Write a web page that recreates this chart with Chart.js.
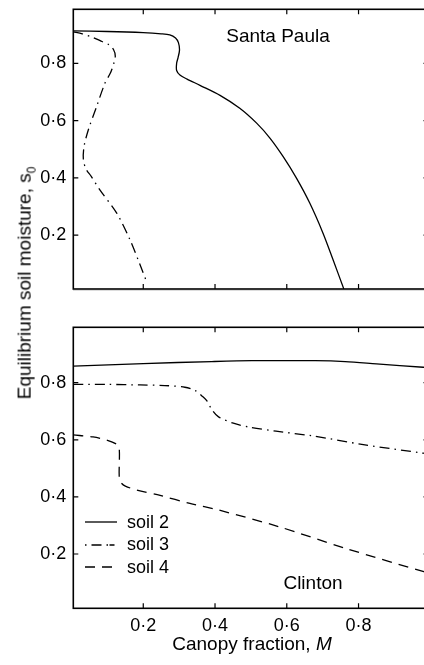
<!DOCTYPE html>
<html>
<head>
<meta charset="utf-8">
<script src="https://cdn.jsdelivr.net/npm/chart.js"></script>
<style>
  body { margin: 0; width: 424px; height: 665px; overflow: hidden; background: #fff; position: relative;
         font-family: "Liberation Sans", Arial, sans-serif; color: #000; }
  canvas { position: absolute; left: 0; }
  #topChart { top: -20px; }
  #botChart { top: 300px; }
  .lbl { position: absolute; white-space: nowrap; font-size: 19px; line-height: 1; }
  #sep { position: absolute; left: 73px; top: 290px; width: 360px; height: 1px; background: #dcdcdc; }
  #legend { position: absolute; left: 84px; top: 511px; font-size: 18px; }
  #legend div { height: 22.5px; display: flex; align-items: center; }
  #legend svg { margin-right: 9px; }
</style>
</head>
<body>
<div id="sep"></div>
<canvas id="botChart" width="440" height="365"></canvas>
<canvas id="topChart" width="440" height="330"></canvas>

<div class="lbl" id="ytitle" style="left:26px; top:283px; transform: translate(-50%,-50%) rotate(-90deg);">Equilibrium soil moisture, s<sub style="font-size:12px">0</sub></div>
<div class="lbl" style="left:252px; top:643px; transform: translate(-50%,-50%);">Canopy fraction, <i>M</i></div>
<div class="lbl" style="left:278px; top:35px; transform: translate(-50%,-50%);">Santa Paula</div>
<div class="lbl" style="left:313px; top:582px; transform: translate(-50%,-50%);">Clinton</div>
<div id="legend"></div>

<script>
// tick values
const xTicks = [0.2, 0.4, 0.6, 0.8];
const yTicks = [0.2, 0.4, 0.6, 0.8];

// Santa Paula
const spSoil2M = [0.005, 0.1, 0.2, 0.25, 0.274, 0.29, 0.298, 0.301, 0.297, 0.293, 0.293, 0.303, 0.322, 0.358, 0.414, 0.469, 0.516, 0.553, 0.59, 0.627, 0.664, 0.701, 0.729, 0.759];
const spSoil2S = [0.913, 0.911, 0.907, 0.903, 0.899, 0.888, 0.872, 0.846, 0.82, 0.8, 0.775, 0.758, 0.745, 0.723, 0.688, 0.643, 0.591, 0.539, 0.474, 0.399, 0.312, 0.207, 0.114, 0.012];
const spSoil3M = [0.005, 0.03, 0.06, 0.085, 0.104, 0.117, 0.122, 0.118, 0.108, 0.093, 0.07, 0.047, 0.035, 0.033, 0.04, 0.055, 0.079, 0.126, 0.163, 0.19, 0.21];
const spSoil3S = [0.91, 0.903, 0.89, 0.876, 0.865, 0.848, 0.825, 0.8, 0.765, 0.73, 0.649, 0.568, 0.51, 0.465, 0.432, 0.405, 0.358, 0.277, 0.184, 0.1, 0.035];

// Clinton
const clSoil2M = [0.005, 0.2, 0.391, 0.503, 0.679, 0.763, 0.85, 0.98, 0.995];
const clSoil2S = [0.858, 0.867, 0.874, 0.877, 0.877, 0.874, 0.866, 0.854, 0.853];
const clSoil3M = [0.005, 0.1, 0.191, 0.26, 0.316, 0.345, 0.365, 0.377, 0.391, 0.409, 0.451, 0.497, 0.57, 0.67, 0.809, 0.98, 0.995];
const clSoil3S = [0.794, 0.794, 0.792, 0.79, 0.784, 0.772, 0.752, 0.737, 0.706, 0.681, 0.658, 0.644, 0.63, 0.614, 0.584, 0.553, 0.55];
const clSoil4M = [0.005, 0.06, 0.098, 0.125, 0.133, 0.133, 0.138, 0.15, 0.182, 0.247, 0.33, 0.41, 0.577, 0.763, 0.982, 0.995];
const clSoil4S = [0.617, 0.61, 0.599, 0.585, 0.57, 0.47, 0.45, 0.438, 0.424, 0.405, 0.377, 0.354, 0.296, 0.22, 0.138, 0.134];

const seriesNames = ['soil 2', 'soil 3', 'soil 4'];
const dashes = [[], [10, 5, 1.5, 5], [10, 7]];

const pts = (xs, ys) => xs.map((x, i) => ({ x: x, y: ys[i] }));
const fmt = v => v.toFixed(1).replace('.', '\u00b7');
const font = { family: '"Liberation Sans", Arial, sans-serif', size: 18 };

function ds(label, xs, ys, k) {
  return { label: label, data: pts(xs, ys), showLine: true, borderColor: '#000', borderWidth: 1.3,
           borderDash: dashes[k], pointRadius: 0, fill: false, tension: 0.3 };
}

// frame + inward ticks
const framePlugin = {
  id: 'frame',
  afterDraw(chart) {
    const ctx = chart.ctx, a = chart.chartArea;
    ctx.save();
    ctx.strokeStyle = '#000';
    ctx.lineWidth = 1.2;
    ctx.beginPath();
    chart.scales.x.ticks.forEach(t => {
      const p = chart.scales.x.getPixelForValue(t.value);
      ctx.moveTo(p, a.bottom); ctx.lineTo(p, a.bottom - 5);
      ctx.moveTo(p, a.top); ctx.lineTo(p, a.top + 5);
    });
    chart.scales.y.ticks.forEach(t => {
      const p = chart.scales.y.getPixelForValue(t.value);
      ctx.moveTo(a.left, p); ctx.lineTo(a.left + 5, p);
      ctx.moveTo(a.right, p); ctx.lineTo(a.right - 5, p);
    });
    ctx.stroke();
    ctx.lineWidth = 1.6;
    ctx.strokeRect(a.left, a.top, a.right - a.left, a.bottom - a.top);
    ctx.restore();
  }
};

function makeChart(id, datasets, yMin, yMax, padTop, xHeight, showXLabels) {
  return new Chart(document.getElementById(id), {
    type: 'scatter',
    data: { datasets: datasets },
    options: {
      responsive: false,
      animation: false,
      layout: { padding: { top: padTop, right: 11.5, left: 0, bottom: 0 } },
      plugins: { legend: { display: false }, tooltip: { enabled: false } },
      scales: {
        x: {
          type: 'linear', min: 0.005, max: 0.995,
          afterBuildTicks: s => { s.ticks = xTicks.map(v => ({ value: v })); },
          afterFit: s => { s.height = xHeight; },
          grid: { display: false, drawTicks: false }, border: { display: false },
          ticks: { display: showXLabels, color: '#000', font: font, padding: 7, maxRotation: 0,
                   callback: v => fmt(v) }
        },
        y: {
          type: 'linear', min: yMin, max: yMax,
          afterBuildTicks: s => { s.ticks = yTicks.map(v => ({ value: v })); },
          afterFit: s => { s.width = 73.3; },
          grid: { display: false, drawTicks: false }, border: { display: false },
          ticks: { color: '#000', font: font, padding: 7, callback: v => fmt(v) }
        }
      }
    },
    plugins: [framePlugin]
  });
}

makeChart('topChart', [
  ds(seriesNames[0], spSoil2M, spSoil2S, 0),
  ds(seriesNames[1], spSoil3M, spSoil3S, 1)
], 0.012, 0.9885, 29.3, 21, false);

makeChart('botChart', [
  ds(seriesNames[0], clSoil2M, clSoil2S, 0),
  ds(seriesNames[1], clSoil3M, clSoil3S, 1),
  ds(seriesNames[2], clSoil4M, clSoil4S, 2)
], 0.0098, 0.994, 27.3, 56.7, true);

// legend
const legend = document.getElementById('legend');
seriesNames.forEach((name, k) => {
  const row = document.createElement('div');
  row.innerHTML = '<svg width="34" height="4"><line x1="1" y1="2" x2="33" y2="2" stroke="#000" stroke-width="1.3" stroke-dasharray="' +
    (k === 1 ? '1.5,5,10,5,1.5' : dashes[k].join(',')) + '"/></svg><span>' + name + '</span>';
  legend.appendChild(row);
});
</script>
</body>
</html>
